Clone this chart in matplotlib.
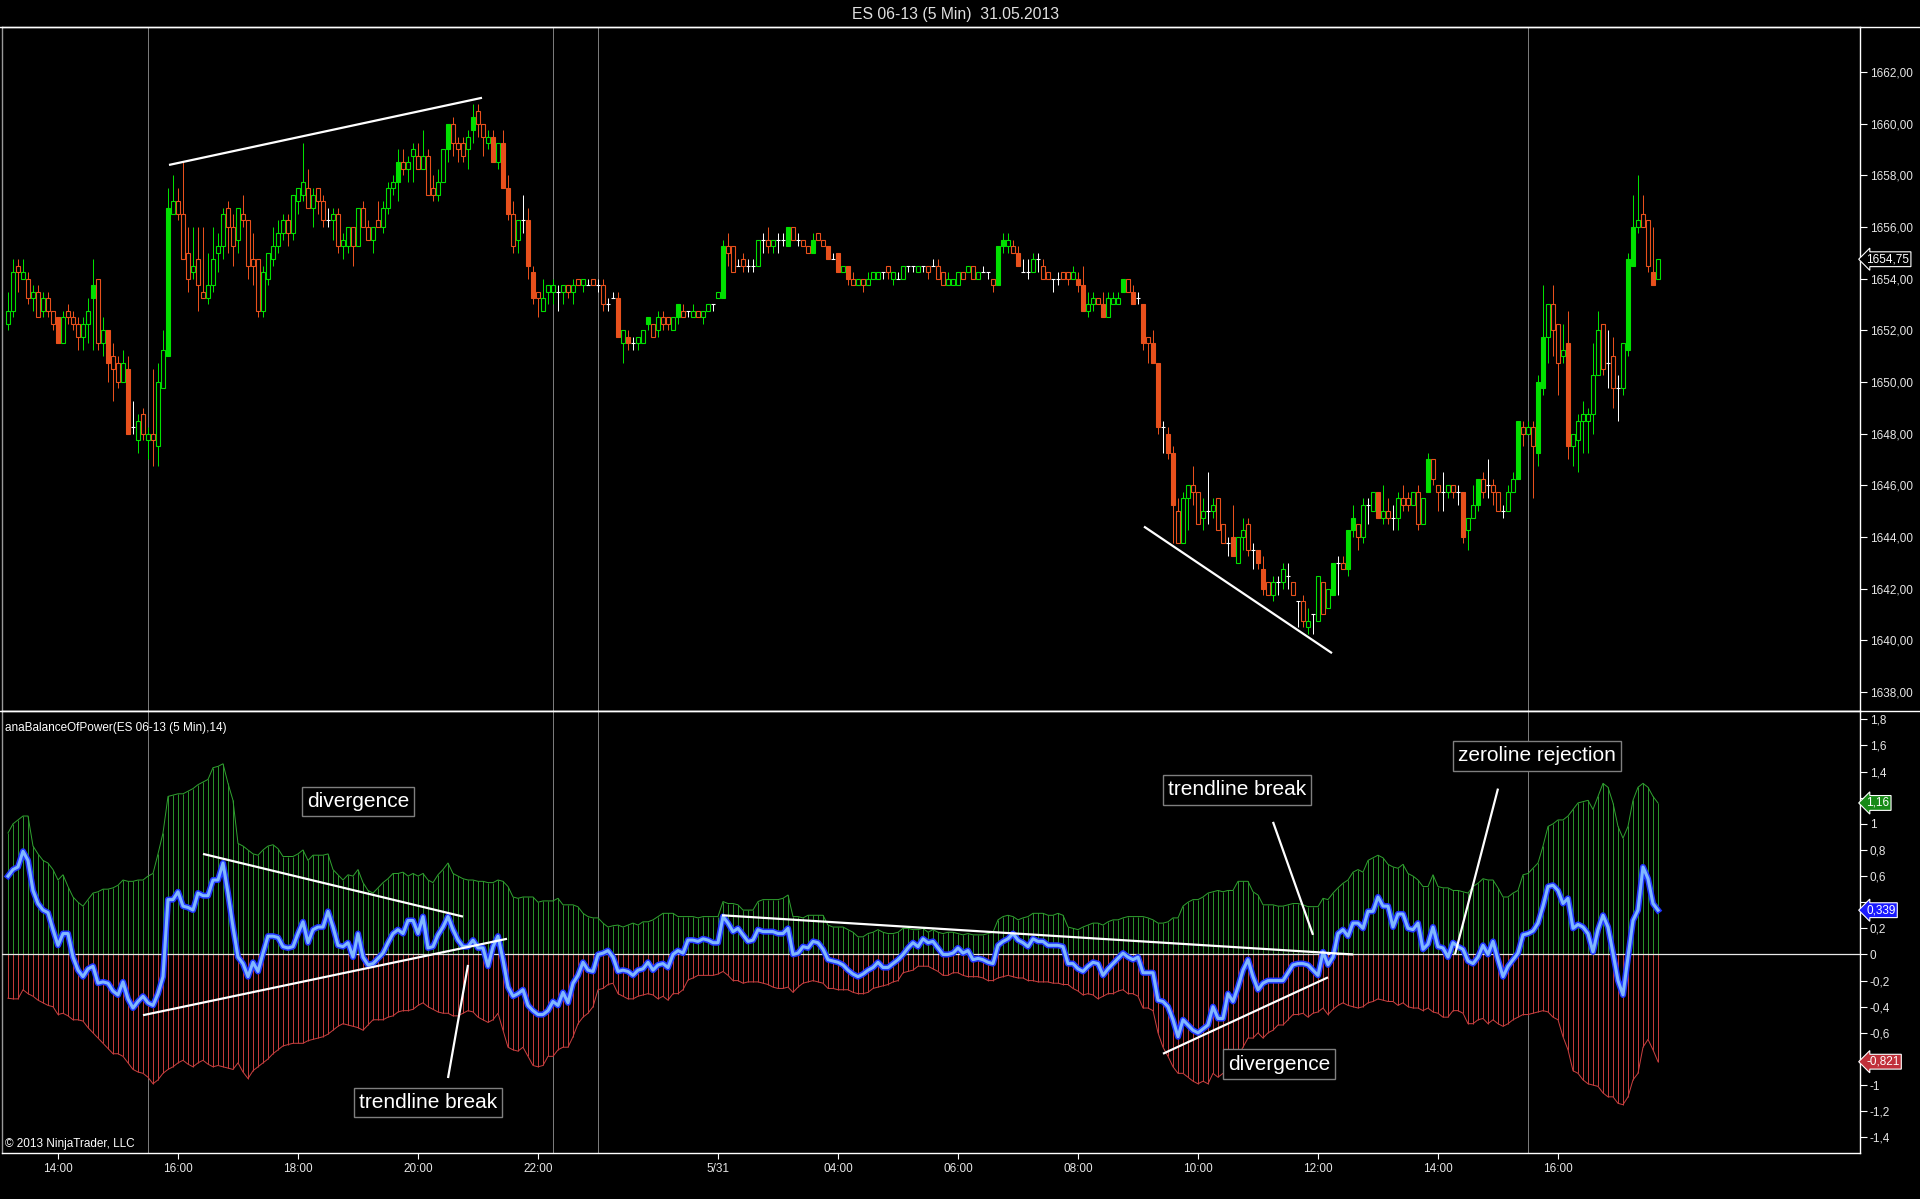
import matplotlib
matplotlib.use("Agg")
import matplotlib.pyplot as plt
import matplotlib.patheffects as pe
from matplotlib.lines import Line2D
import matplotlib.transforms as mtransforms

plt.rcParams['font.family'] = ['Liberation Sans', 'DejaVu Sans']

# ---- ES 06-13, 5 min bars (bar index 0 .. 330) ----
opens = [
    1652.25, 1652.75, 1654.5, 1654.0, 1654.0, 1653.25, 1653.5, 1652.75, 1653.25, 1652.75,
    1652.5, 1651.5, 1652.75, 1652.5, 1652.25, 1651.75, 1652.25, 1653.25, 1654.0, 1651.5,
    1652.0, 1651.0, 1650.75, 1650.0, 1650.5, 1648.25, 1647.75, 1648.75, 1647.75, 1648.0,
    1647.5, 1649.75, 1651.0, 1656.5, 1657.0, 1656.5, 1655.0, 1654.25, 1654.75, 1653.5,
    1653.25, 1653.75, 1655.0, 1655.25, 1656.75, 1656.0, 1655.5, 1656.5, 1656.25, 1654.75,
    1654.75, 1652.75, 1654.0, 1654.75, 1655.25, 1655.75, 1656.25, 1655.75, 1657.0, 1657.25,
    1657.5, 1656.75, 1657.5, 1657.0, 1656.25, 1656.25, 1656.5, 1655.25, 1655.25, 1656.0,
    1655.25, 1656.75, 1656.0, 1655.5, 1656.25, 1656.0, 1656.75, 1657.5, 1657.75, 1658.5,
    1658.25, 1658.75, 1658.75, 1658.25, 1658.75, 1657.5, 1657.25, 1657.75, 1659.0, 1660.0,
    1659.25, 1659.25, 1659.0, 1659.75, 1660.5, 1660.0, 1659.25, 1659.5, 1658.5, 1659.25,
    1657.5, 1656.5, 1655.5, 1656.25, 1656.25, 1654.25, 1653.5, 1652.75, 1653.5, 1653.5,
    1653.5, 1653.5, 1653.75, 1653.5, 1654.0, 1653.75, 1653.75, 1654.0, 1653.75, 1653.75,
    1653.0, 1653.25, 1653.25, 1651.5, 1651.75, 1651.5, 1651.5, 1651.5, 1652.25, 1652.25,
    1652.0, 1652.5, 1652.5, 1652.0, 1652.5, 1652.75, 1652.75, 1652.5, 1652.75, 1652.5,
    1652.75, 1653.0, 1653.25, 1653.25, 1655.25, 1655.25, 1654.5, 1654.75, 1654.5, 1654.5,
    1654.5, 1655.5, 1655.5, 1655.25, 1655.5, 1655.5, 1655.25, 1656.0, 1655.5, 1655.5,
    1655.25, 1655.0, 1655.75, 1655.5, 1655.25, 1654.75, 1655.0, 1654.25, 1654.5, 1654.0,
    1653.75, 1654.0, 1653.75, 1654.0, 1654.0, 1654.25, 1654.5, 1654.0, 1654.0, 1654.0,
    1654.5, 1654.5, 1654.25, 1654.5, 1654.5, 1654.5, 1654.5, 1654.25, 1653.75, 1653.75,
    1653.75, 1654.25, 1654.25, 1654.5, 1654.0, 1654.25, 1654.25, 1654.0, 1653.75, 1655.25,
    1655.25, 1655.25, 1655.0, 1654.25, 1654.25, 1654.25, 1654.75, 1654.5, 1654.25, 1654.0,
    1654.0, 1654.25, 1654.25, 1654.0, 1654.0, 1653.75, 1652.75, 1653.0, 1653.25, 1653.0,
    1652.5, 1653.0, 1653.0, 1653.5, 1654.0, 1653.5, 1653.25, 1653.0, 1651.75, 1651.5,
    1650.75, 1648.25, 1648.0, 1647.25, 1645.0, 1643.75, 1645.5, 1646.0, 1645.75, 1644.75,
    1645.0, 1645.0, 1645.5, 1644.5, 1643.75, 1644.0, 1643.0, 1644.0, 1644.5, 1643.5,
    1643.5, 1642.75, 1642.25, 1641.75, 1642.25, 1642.25, 1642.5, 1642.25, 1641.5, 1641.5,
    1640.5, 1641.0, 1640.75, 1642.25, 1641.25, 1641.75, 1643.0, 1643.0, 1642.75, 1644.25,
    1644.5, 1644.0, 1645.25, 1645.0, 1645.75, 1644.75, 1645.0, 1644.75, 1644.75, 1645.5,
    1645.5, 1645.25, 1645.75, 1644.5, 1645.75, 1647.0, 1646.0, 1645.75, 1645.75, 1646.0,
    1645.75, 1645.75, 1644.25, 1644.75, 1645.25, 1646.25, 1646.0, 1646.0, 1645.75, 1645.0,
    1645.0, 1645.75, 1646.25, 1648.25, 1648.0, 1648.25, 1647.25, 1649.75, 1651.75, 1653.0,
    1652.25, 1651.0, 1651.5, 1647.5, 1647.75, 1648.5, 1648.5, 1648.75, 1650.25, 1652.25,
    1650.75, 1651.0, 1649.75, 1649.75, 1651.25, 1654.5, 1656.0, 1656.5, 1656.25, 1654.25,
    1654.0]
highs = [
    1653.5, 1654.75, 1654.75, 1654.75, 1654.25, 1653.75, 1653.75, 1653.5, 1653.5, 1652.75,
    1652.5, 1652.75, 1653.0, 1652.75, 1652.5, 1652.5, 1653.25, 1654.75, 1654.0, 1652.5,
    1652.0, 1651.5, 1651.0, 1651.25, 1651.0, 1649.25, 1648.75, 1649.0, 1648.25, 1650.5,
    1650.75, 1652.0, 1657.5, 1658.0, 1657.5, 1658.5, 1656.0, 1656.0, 1656.0, 1656.0,
    1655.0, 1656.0, 1655.75, 1656.75, 1657.0, 1656.5, 1656.75, 1657.25, 1656.25, 1655.75,
    1654.75, 1654.5, 1655.0, 1656.0, 1656.25, 1656.5, 1656.5, 1657.25, 1657.5, 1659.25,
    1658.25, 1657.5, 1657.5, 1657.25, 1656.75, 1656.75, 1656.75, 1655.75, 1656.0, 1656.0,
    1656.75, 1657.0, 1656.25, 1656.0, 1657.0, 1657.0, 1657.75, 1658.0, 1659.0, 1659.0,
    1658.75, 1659.25, 1659.25, 1659.75, 1659.0, 1658.0, 1658.25, 1659.0, 1660.0, 1660.25,
    1659.5, 1659.5, 1659.75, 1660.75, 1660.75, 1660.0, 1659.75, 1659.75, 1659.25, 1659.75,
    1658.0, 1657.0, 1656.25, 1657.25, 1656.75, 1654.5, 1653.5, 1654.0, 1653.75, 1654.0,
    1653.75, 1653.75, 1653.75, 1654.0, 1654.0, 1654.0, 1654.0, 1654.0, 1654.0, 1654.0,
    1653.25, 1653.5, 1653.5, 1652.0, 1652.0, 1651.75, 1651.75, 1652.0, 1652.5, 1652.25,
    1652.75, 1652.75, 1652.5, 1652.5, 1653.0, 1653.0, 1652.75, 1653.0, 1652.75, 1652.75,
    1653.0, 1653.0, 1653.5, 1655.5, 1655.75, 1655.25, 1654.75, 1655.0, 1654.75, 1654.75,
    1655.5, 1655.75, 1656.0, 1655.5, 1655.75, 1655.75, 1656.0, 1656.0, 1655.75, 1655.5,
    1655.25, 1655.75, 1655.75, 1655.5, 1655.25, 1655.0, 1655.0, 1654.5, 1654.5, 1654.25,
    1654.0, 1654.0, 1654.25, 1654.25, 1654.25, 1654.25, 1654.5, 1654.25, 1654.25, 1654.5,
    1654.5, 1654.5, 1654.5, 1654.5, 1654.5, 1654.75, 1654.75, 1654.25, 1654.25, 1654.0,
    1654.25, 1654.25, 1654.5, 1654.5, 1654.25, 1654.5, 1654.25, 1654.0, 1655.25, 1655.75,
    1655.75, 1655.5, 1655.25, 1654.75, 1654.75, 1655.0, 1655.0, 1654.75, 1654.25, 1654.0,
    1654.25, 1654.25, 1654.25, 1654.5, 1654.25, 1654.5, 1653.5, 1653.5, 1653.25, 1653.5,
    1653.5, 1653.5, 1653.5, 1654.0, 1654.0, 1653.75, 1653.5, 1653.0, 1651.75, 1652.0,
    1650.75, 1648.5, 1648.25, 1647.5, 1645.5, 1645.75, 1646.0, 1646.75, 1645.75, 1645.5,
    1646.5, 1645.5, 1645.5, 1644.5, 1644.0, 1645.25, 1644.0, 1644.75, 1644.75, 1643.75,
    1643.5, 1643.25, 1642.25, 1642.5, 1642.5, 1643.0, 1643.0, 1642.25, 1641.5, 1641.75,
    1641.25, 1641.0, 1642.5, 1642.25, 1642.0, 1643.0, 1643.25, 1643.25, 1644.25, 1645.25,
    1644.5, 1645.5, 1645.5, 1645.75, 1645.75, 1646.0, 1645.5, 1645.25, 1645.75, 1646.0,
    1645.75, 1645.75, 1646.0, 1645.5, 1647.25, 1647.0, 1646.0, 1646.5, 1646.0, 1646.0,
    1646.0, 1645.75, 1644.75, 1646.0, 1646.25, 1646.5, 1647.0, 1646.25, 1645.75, 1645.25,
    1646.0, 1646.5, 1648.5, 1648.5, 1648.5, 1648.5, 1650.25, 1653.75, 1653.0, 1653.75,
    1652.25, 1652.25, 1652.75, 1648.0, 1648.75, 1649.25, 1649.0, 1651.5, 1652.75, 1652.25,
    1652.0, 1651.75, 1650.25, 1651.5, 1655.0, 1657.25, 1658.0, 1657.25, 1656.25, 1656.0,
    1654.75]
lows = [
    1652.0, 1652.5, 1653.5, 1654.0, 1653.0, 1652.75, 1652.5, 1652.5, 1652.5, 1652.0,
    1651.5, 1651.5, 1652.25, 1652.0, 1651.25, 1651.25, 1651.5, 1651.25, 1651.25, 1651.0,
    1650.0, 1649.25, 1649.75, 1650.0, 1648.0, 1648.0, 1647.25, 1647.75, 1647.0, 1646.75,
    1646.75, 1649.75, 1651.0, 1656.5, 1656.25, 1654.75, 1653.5, 1654.0, 1652.75, 1653.25,
    1653.0, 1653.5, 1654.25, 1654.75, 1655.0, 1654.5, 1655.0, 1656.0, 1654.0, 1653.75,
    1652.5, 1652.5, 1653.75, 1654.5, 1655.0, 1655.5, 1655.25, 1655.5, 1656.5, 1657.0,
    1656.75, 1656.0, 1656.5, 1656.0, 1656.0, 1655.5, 1655.0, 1654.75, 1655.0, 1654.5,
    1655.25, 1656.0, 1655.5, 1655.0, 1656.0, 1655.75, 1656.5, 1657.25, 1657.0, 1658.0,
    1657.75, 1657.75, 1658.25, 1658.25, 1657.25, 1657.0, 1657.0, 1657.75, 1658.5, 1658.75,
    1658.5, 1658.5, 1658.25, 1659.25, 1659.5, 1658.75, 1659.0, 1658.5, 1658.25, 1657.5,
    1656.25, 1655.0, 1655.0, 1655.75, 1654.0, 1653.0, 1652.5, 1652.75, 1653.0, 1653.0,
    1652.75, 1653.0, 1653.25, 1653.0, 1653.75, 1653.5, 1653.75, 1653.75, 1653.5, 1652.75,
    1652.75, 1653.25, 1651.75, 1650.75, 1651.25, 1651.25, 1651.25, 1651.5, 1652.0, 1651.75,
    1651.75, 1652.0, 1652.0, 1652.0, 1652.25, 1652.5, 1652.5, 1652.5, 1652.5, 1652.25,
    1652.75, 1652.75, 1653.25, 1653.25, 1654.5, 1654.25, 1654.5, 1654.25, 1654.25, 1654.25,
    1654.5, 1655.0, 1655.0, 1655.0, 1655.0, 1655.25, 1655.25, 1655.5, 1655.25, 1655.25,
    1655.0, 1655.0, 1655.5, 1655.25, 1654.75, 1654.75, 1654.25, 1654.25, 1653.75, 1653.75,
    1653.75, 1653.5, 1653.75, 1654.0, 1654.0, 1654.0, 1654.0, 1653.75, 1654.0, 1654.0,
    1654.25, 1654.25, 1654.25, 1654.25, 1654.0, 1654.5, 1654.0, 1653.75, 1653.75, 1653.75,
    1653.75, 1654.0, 1654.25, 1654.0, 1654.0, 1654.25, 1654.0, 1653.5, 1653.75, 1655.0,
    1655.0, 1655.0, 1654.5, 1654.25, 1654.0, 1654.25, 1654.25, 1654.0, 1654.0, 1653.5,
    1653.75, 1654.0, 1653.75, 1654.0, 1653.5, 1652.75, 1652.5, 1652.75, 1653.0, 1652.5,
    1652.5, 1653.0, 1653.0, 1653.5, 1653.5, 1653.0, 1653.0, 1651.25, 1650.75, 1650.75,
    1648.0, 1647.25, 1647.0, 1643.75, 1643.75, 1643.75, 1644.25, 1645.25, 1644.5, 1644.25,
    1644.5, 1644.75, 1644.25, 1643.75, 1643.25, 1643.25, 1643.0, 1643.5, 1643.25, 1642.75,
    1642.75, 1641.75, 1641.75, 1641.5, 1641.75, 1642.0, 1642.0, 1641.75, 1640.5, 1640.5,
    1640.25, 1640.25, 1640.75, 1641.0, 1641.25, 1641.75, 1641.75, 1642.75, 1642.5, 1644.0,
    1643.5, 1643.75, 1644.5, 1645.0, 1644.75, 1644.5, 1644.5, 1644.25, 1644.25, 1645.0,
    1645.0, 1645.25, 1644.25, 1644.5, 1645.75, 1646.0, 1645.0, 1645.0, 1645.5, 1645.5,
    1645.25, 1643.75, 1643.5, 1644.75, 1645.0, 1645.5, 1645.5, 1645.25, 1645.0, 1644.75,
    1645.0, 1645.75, 1646.25, 1647.5, 1648.0, 1645.5, 1646.75, 1649.5, 1650.75, 1651.0,
    1649.5, 1650.75, 1647.0, 1646.75, 1646.5, 1647.25, 1647.25, 1648.0, 1650.25, 1650.25,
    1649.75, 1649.0, 1648.5, 1649.5, 1651.0, 1654.5, 1655.75, 1656.0, 1654.25, 1653.75,
    1654.0]
closes = [
    1652.75, 1654.25, 1654.25, 1654.25, 1653.25, 1653.5, 1652.5, 1653.25, 1652.75, 1652.25,
    1651.5, 1652.5, 1652.5, 1652.25, 1651.75, 1652.25, 1652.75, 1653.75, 1651.5, 1652.0,
    1650.75, 1650.5, 1650.0, 1650.75, 1648.0, 1648.25, 1648.5, 1648.0, 1648.0, 1647.75,
    1650.0, 1651.25, 1656.75, 1657.0, 1656.5, 1654.75, 1654.0, 1654.5, 1653.75, 1653.25,
    1653.75, 1654.75, 1655.25, 1656.5, 1656.0, 1655.25, 1656.75, 1656.25, 1654.5, 1654.5,
    1652.75, 1654.25, 1655.0, 1655.25, 1655.75, 1656.25, 1655.75, 1657.25, 1657.5, 1657.75,
    1656.75, 1657.25, 1657.0, 1656.25, 1656.25, 1656.5, 1655.25, 1655.5, 1656.0, 1655.25,
    1656.75, 1656.0, 1655.5, 1656.0, 1656.0, 1656.75, 1657.5, 1657.75, 1658.5, 1658.25,
    1658.5, 1659.0, 1658.25, 1658.75, 1657.25, 1657.25, 1657.75, 1659.0, 1660.0, 1659.25,
    1659.0, 1658.75, 1659.5, 1660.25, 1660.0, 1659.5, 1659.5, 1658.5, 1659.25, 1657.5,
    1656.5, 1655.25, 1656.25, 1656.25, 1654.5, 1653.25, 1653.25, 1653.25, 1653.75, 1653.75,
    1653.5, 1653.75, 1653.5, 1653.75, 1653.75, 1654.0, 1653.75, 1653.75, 1653.75, 1653.0,
    1653.0, 1653.25, 1651.75, 1652.0, 1651.5, 1651.5, 1651.75, 1652.0, 1652.5, 1651.75,
    1652.5, 1652.25, 1652.25, 1652.5, 1653.0, 1652.5, 1652.75, 1652.75, 1652.5, 1652.75,
    1653.0, 1653.0, 1653.5, 1655.25, 1655.0, 1654.25, 1654.5, 1654.5, 1654.5, 1654.5,
    1655.5, 1655.5, 1655.25, 1655.5, 1655.5, 1655.5, 1656.0, 1655.5, 1655.5, 1655.25,
    1655.0, 1655.5, 1655.5, 1655.25, 1654.75, 1654.75, 1654.25, 1654.5, 1654.0, 1653.75,
    1654.0, 1653.75, 1654.0, 1654.25, 1654.25, 1654.25, 1654.25, 1654.25, 1654.0, 1654.5,
    1654.5, 1654.5, 1654.5, 1654.5, 1654.25, 1654.5, 1654.0, 1653.75, 1654.0, 1654.0,
    1654.25, 1654.0, 1654.5, 1654.0, 1654.25, 1654.25, 1654.25, 1653.75, 1655.25, 1655.5,
    1655.5, 1655.0, 1654.5, 1654.25, 1654.25, 1654.75, 1654.75, 1654.0, 1654.0, 1654.0,
    1654.0, 1654.0, 1654.0, 1654.25, 1653.75, 1652.75, 1653.0, 1653.25, 1653.0, 1652.5,
    1653.25, 1653.25, 1653.25, 1654.0, 1653.5, 1653.0, 1653.25, 1651.5, 1651.5, 1650.75,
    1648.25, 1648.25, 1647.25, 1645.25, 1643.75, 1645.5, 1646.0, 1645.75, 1644.5, 1645.0,
    1645.0, 1645.25, 1644.25, 1643.75, 1643.75, 1643.25, 1644.0, 1644.25, 1643.5, 1643.5,
    1643.0, 1642.0, 1641.75, 1642.25, 1642.25, 1642.75, 1642.5, 1641.75, 1641.5, 1640.75,
    1640.75, 1641.0, 1642.5, 1641.0, 1642.0, 1643.0, 1643.0, 1642.75, 1644.25, 1644.75,
    1644.0, 1645.25, 1645.25, 1645.75, 1644.75, 1645.0, 1644.75, 1644.75, 1645.5, 1645.25,
    1645.25, 1645.75, 1644.5, 1645.5, 1647.0, 1646.25, 1645.75, 1645.75, 1646.0, 1645.75,
    1645.75, 1644.0, 1644.75, 1645.25, 1646.25, 1645.75, 1646.0, 1645.75, 1645.0, 1645.0,
    1645.75, 1646.25, 1648.5, 1648.0, 1648.25, 1647.5, 1650.0, 1651.75, 1653.0, 1652.0,
    1650.75, 1651.25, 1647.5, 1648.0, 1648.5, 1648.75, 1648.75, 1650.25, 1652.0, 1650.5,
    1650.75, 1649.75, 1649.75, 1651.5, 1654.75, 1656.0, 1656.25, 1656.0, 1654.5, 1653.75,
    1654.75]
filled_bars = [10, 17, 20, 24, 32, 78, 88, 93, 97, 99, 100, 104, 105, 122, 124, 128, 134,
               143, 156, 161, 164, 166, 168, 198, 199, 202, 214, 215, 219, 223, 225, 227,
               229, 230, 232, 233, 245, 250, 251, 265, 268, 269, 274, 284, 291, 294, 302,
               306, 307, 312, 324, 325, 329]

# ---- anaBalanceOfPower(14): upper band, lower band, BOP line ----
bop_up = [
    0.93, 1.00, 1.03, 1.06, 1.06, 0.83, 0.77, 0.72, 0.70, 0.65,
    0.57, 0.61, 0.52, 0.44, 0.40, 0.37, 0.42, 0.47, 0.48, 0.50,
    0.50, 0.51, 0.53, 0.57, 0.56, 0.56, 0.57, 0.57, 0.60, 0.62,
    0.77, 0.93, 1.21, 1.22, 1.23, 1.23, 1.25, 1.27, 1.30, 1.32,
    1.34, 1.43, 1.44, 1.46, 1.31, 1.18, 0.85, 0.83, 0.80, 0.77,
    0.76, 0.80, 0.83, 0.84, 0.81, 0.75, 0.75, 0.75, 0.77, 0.80,
    0.72, 0.76, 0.76, 0.76, 0.77, 0.65, 0.61, 0.57, 0.61, 0.60,
    0.65, 0.55, 0.49, 0.47, 0.51, 0.55, 0.58, 0.62, 0.62, 0.63,
    0.60, 0.62, 0.60, 0.62, 0.57, 0.55, 0.61, 0.65, 0.70, 0.62,
    0.60, 0.58, 0.57, 0.57, 0.56, 0.56, 0.55, 0.55, 0.57, 0.56,
    0.52, 0.44, 0.43, 0.44, 0.44, 0.44, 0.40, 0.41, 0.41, 0.41,
    0.43, 0.38, 0.38, 0.38, 0.365, 0.315, 0.29, 0.28, 0.28, 0.24,
    0.21, 0.22, 0.225, 0.21, 0.225, 0.24, 0.225, 0.25, 0.25, 0.265,
    0.29, 0.315, 0.315, 0.315, 0.29, 0.29, 0.29, 0.29, 0.28, 0.29,
    0.29, 0.29, 0.29, 0.405, 0.39, 0.39, 0.38, 0.34, 0.34, 0.34,
    0.405, 0.42, 0.42, 0.42, 0.42, 0.43, 0.455, 0.29, 0.29, 0.28,
    0.30, 0.30, 0.30, 0.30, 0.225, 0.21, 0.21, 0.21, 0.19, 0.17,
    0.135, 0.135, 0.16, 0.17, 0.19, 0.17, 0.16, 0.16, 0.17, 0.20,
    0.20, 0.19, 0.19, 0.20, 0.17, 0.19, 0.17, 0.16, 0.17, 0.17,
    0.16, 0.15, 0.16, 0.15, 0.15, 0.15, 0.16, 0.17, 0.265, 0.29,
    0.30, 0.29, 0.265, 0.28, 0.29, 0.315, 0.315, 0.315, 0.30, 0.30,
    0.315, 0.30, 0.21, 0.20, 0.19, 0.21, 0.225, 0.24, 0.24, 0.225,
    0.25, 0.265, 0.265, 0.28, 0.29, 0.29, 0.29, 0.29, 0.28, 0.265,
    0.24, 0.24, 0.25, 0.28, 0.28, 0.37, 0.40, 0.42, 0.42, 0.44,
    0.47, 0.48, 0.49, 0.48, 0.49, 0.49, 0.56, 0.56, 0.56, 0.48,
    0.455, 0.38, 0.38, 0.38, 0.37, 0.37, 0.38, 0.39, 0.39, 0.38,
    0.366, 0.366, 0.366, 0.43, 0.42, 0.47, 0.51, 0.545, 0.57, 0.63,
    0.65, 0.63, 0.72, 0.74, 0.76, 0.74, 0.69, 0.67, 0.66, 0.69,
    0.62, 0.60, 0.57, 0.52, 0.52, 0.61, 0.52, 0.51, 0.51, 0.49,
    0.49, 0.48, 0.47, 0.52, 0.545, 0.58, 0.57, 0.57, 0.51, 0.44,
    0.44, 0.47, 0.49, 0.61, 0.62, 0.66, 0.70, 0.83, 0.98, 1.00,
    1.03, 1.03, 1.06, 1.11, 1.16, 1.17, 1.18, 1.11, 1.21, 1.31,
    1.28, 1.16, 0.98, 0.89, 0.98, 1.18, 1.28, 1.31, 1.28, 1.21,
    1.16]
bop_dn = [
    -0.335, -0.34, -0.34, -0.27, -0.30, -0.32, -0.35, -0.37, -0.39, -0.40,
    -0.46, -0.45, -0.47, -0.50, -0.50, -0.51, -0.56, -0.60, -0.64, -0.68,
    -0.72, -0.76, -0.76, -0.78, -0.83, -0.88, -0.90, -0.91, -0.94, -0.99,
    -0.96, -0.91, -0.88, -0.86, -0.83, -0.81, -0.84, -0.86, -0.83, -0.81,
    -0.84, -0.86, -0.85, -0.86, -0.87, -0.88, -0.83, -0.90, -0.95, -0.89,
    -0.86, -0.83, -0.80, -0.76, -0.73, -0.70, -0.69, -0.68, -0.68, -0.68,
    -0.66, -0.65, -0.64, -0.63, -0.61, -0.58, -0.55, -0.53, -0.54, -0.55,
    -0.56, -0.58, -0.54, -0.50, -0.50, -0.50, -0.48, -0.47, -0.44, -0.43,
    -0.43, -0.42, -0.39, -0.37, -0.40, -0.42, -0.44, -0.45, -0.45, -0.47,
    -0.47, -0.45, -0.43, -0.44, -0.48, -0.50, -0.52, -0.50, -0.45, -0.58,
    -0.71, -0.73, -0.74, -0.71, -0.78, -0.85, -0.86, -0.85, -0.78, -0.78,
    -0.73, -0.71, -0.71, -0.63, -0.53, -0.48, -0.45, -0.40, -0.27, -0.26,
    -0.23, -0.22, -0.30, -0.32, -0.34, -0.34, -0.32, -0.31, -0.30, -0.31,
    -0.34, -0.32, -0.35, -0.30, -0.30, -0.27, -0.195, -0.18, -0.16, -0.16,
    -0.16, -0.16, -0.15, -0.13, -0.16, -0.20, -0.20, -0.22, -0.21, -0.21,
    -0.21, -0.22, -0.23, -0.25, -0.26, -0.26, -0.25, -0.29, -0.25, -0.22,
    -0.21, -0.20, -0.21, -0.22, -0.26, -0.26, -0.27, -0.27, -0.27, -0.29,
    -0.30, -0.30, -0.29, -0.26, -0.25, -0.24, -0.23, -0.21, -0.20, -0.14,
    -0.13, -0.12, -0.09, -0.09, -0.09, -0.11, -0.13, -0.16, -0.16, -0.14,
    -0.14, -0.16, -0.17, -0.17, -0.17, -0.18, -0.20, -0.20, -0.18, -0.17,
    -0.16, -0.17, -0.18, -0.18, -0.20, -0.20, -0.21, -0.21, -0.21, -0.22,
    -0.22, -0.23, -0.23, -0.26, -0.28, -0.31, -0.30, -0.31, -0.34, -0.32,
    -0.30, -0.30, -0.28, -0.27, -0.30, -0.30, -0.32, -0.41, -0.41, -0.43,
    -0.60, -0.71, -0.78, -0.86, -0.91, -0.91, -0.94, -0.97, -0.99, -0.97,
    -0.99, -0.91, -0.94, -0.91, -0.92, -0.86, -0.78, -0.71, -0.64, -0.64,
    -0.60, -0.64, -0.60, -0.58, -0.54, -0.54, -0.50, -0.46, -0.46, -0.45,
    -0.48, -0.45, -0.44, -0.41, -0.46, -0.42, -0.39, -0.37, -0.39, -0.40,
    -0.41, -0.40, -0.37, -0.36, -0.34, -0.35, -0.36, -0.36, -0.39, -0.37,
    -0.40, -0.41, -0.41, -0.43, -0.41, -0.44, -0.45, -0.48, -0.48, -0.43,
    -0.43, -0.45, -0.53, -0.53, -0.50, -0.49, -0.53, -0.50, -0.53, -0.55,
    -0.53, -0.50, -0.48, -0.46, -0.46, -0.45, -0.44, -0.43, -0.44, -0.48,
    -0.50, -0.63, -0.73, -0.89, -0.91, -0.96, -0.99, -1.00, -1.01, -1.06,
    -1.09, -1.09, -1.14, -1.15, -1.09, -0.96, -0.91, -0.71, -0.65, -0.73,
    -0.821]
bop = [
    0.60, 0.65, 0.67, 0.79, 0.72, 0.49, 0.39, 0.34, 0.32, 0.19,
    0.07, 0.16, 0.16, -0.02, -0.12, -0.17, -0.11, -0.09, -0.22, -0.21,
    -0.22, -0.28, -0.31, -0.21, -0.34, -0.41, -0.36, -0.32, -0.37, -0.39,
    -0.30, -0.17, 0.42, 0.42, 0.48, 0.37, 0.36, 0.34, 0.47, 0.45,
    0.45, 0.57, 0.57, 0.70, 0.47, 0.21, -0.02, -0.07, -0.17, -0.06,
    -0.13, 0.01, 0.14, 0.14, 0.13, 0.06, 0.05, 0.06, 0.16, 0.25,
    0.09, 0.19, 0.21, 0.21, 0.33, 0.21, 0.07, 0.06, 0.09, -0.02,
    0.16, -0.02, -0.08, -0.07, -0.03, 0.01, 0.09, 0.16, 0.19, 0.16,
    0.26, 0.26, 0.16, 0.29, 0.05, 0.06, 0.15, 0.21, 0.29, 0.19,
    0.11, 0.06, 0.06, 0.11, 0.05, 0.05, -0.09, 0.06, 0.14, -0.04,
    -0.25, -0.32, -0.30, -0.27, -0.39, -0.43, -0.46, -0.46, -0.43, -0.36,
    -0.39, -0.29, -0.37, -0.22, -0.16, -0.06, -0.12, -0.13, 0.00, 0.01,
    0.03, -0.02, -0.13, -0.12, -0.13, -0.16, -0.12, -0.11, -0.06, -0.12,
    -0.08, -0.07, -0.10, 0.00, 0.03, 0.01, 0.11, 0.11, 0.10, 0.12,
    0.11, 0.09, 0.09, 0.29, 0.24, 0.175, 0.20, 0.15, 0.10, 0.11,
    0.19, 0.175, 0.175, 0.175, 0.16, 0.16, 0.20, 0.00, 0.01, 0.06,
    0.05, 0.10, 0.09, 0.04, -0.04, -0.05, -0.06, -0.08, -0.12, -0.15,
    -0.17, -0.15, -0.12, -0.10, -0.06, -0.10, -0.10, -0.07, -0.04, 0.00,
    0.05, 0.09, 0.06, 0.12, 0.09, 0.10, 0.05, 0.00, 0.00, 0.01,
    0.05, 0.01, 0.03, -0.04, -0.03, -0.04, -0.06, -0.07, 0.07, 0.10,
    0.12, 0.16, 0.11, 0.09, 0.06, 0.12, 0.10, 0.10, 0.07, 0.07,
    0.07, 0.06, -0.07, -0.07, -0.11, -0.13, -0.09, -0.06, -0.07, -0.16,
    -0.11, -0.07, -0.03, 0.01, -0.02, -0.04, -0.02, -0.14, -0.14, -0.14,
    -0.35, -0.36, -0.40, -0.50, -0.63, -0.50, -0.54, -0.58, -0.60, -0.57,
    -0.54, -0.40, -0.49, -0.49, -0.30, -0.36, -0.25, -0.12, -0.04, -0.17,
    -0.27, -0.22, -0.20, -0.20, -0.20, -0.20, -0.14, -0.08, -0.07, -0.07,
    -0.08, -0.12, -0.16, 0.02, -0.08, -0.02, 0.16, 0.19, 0.14, 0.24,
    0.24, 0.20, 0.33, 0.33, 0.44, 0.37, 0.37, 0.21, 0.31, 0.31,
    0.20, 0.19, 0.24, 0.04, 0.08, 0.21, 0.06, 0.05, -0.02, 0.09,
    0.06, 0.04, -0.05, -0.07, -0.02, 0.07, 0.00, 0.10, -0.04, -0.17,
    -0.09, -0.04, 0.01, 0.15, 0.16, 0.18, 0.24, 0.37, 0.52, 0.53,
    0.49, 0.39, 0.43, 0.20, 0.23, 0.21, 0.16, 0.02, 0.19, 0.30,
    0.21, 0.01, -0.20, -0.31, -0.02, 0.26, 0.34, 0.67, 0.58, 0.39,
    0.339]

# time axis labels (bar index -> label) and session separators
time_ticks = [10, 34, 58, 82, 106, 142, 166, 190, 214, 238, 262, 286, 310]
time_labels = ['14:00', '16:00', '18:00', '20:00', '22:00', '5/31', '04:00',
               '06:00', '08:00', '10:00', '12:00', '14:00', '16:00']
session_breaks = [28, 109, 118, 304]

# hand-drawn trend lines and text notes
price_lines = [((32.2, 1658.4), (94.8, 1661.0)), ((227.2, 1644.4), (264.8, 1639.5))]
bop_lines = [((39, 0.77), (91, 0.29)), ((27, -0.465), (99.8, 0.12)),
             ((88, -0.946), (92, -0.08)), ((142.8, 0.30), (269, 0.0)),
             ((231, -0.76), (264, -0.175)), ((253, 1.015), (261, 0.15)),
             ((298, 1.27), (289.4, 0.0))]
notes = [('divergence', 70, 1.17), ('trendline break', 84, -1.135),
         ('trendline break', 245.8, 1.26), ('zeroline rejection', 305.8, 1.52),
         ('divergence', 254.2, -0.84)]

n = min(len(opens), len(highs), len(lows), len(closes))
m = min(len(bop_up), len(bop_dn), len(bop))

W, H = 1920, 1199
fig = plt.figure(figsize=(W / 100, H / 100), dpi=100, facecolor='black')
PX = 0.72  # one pixel in points

ax1 = fig.add_axes([2 / W, 1 - 711 / H, 1858 / W, 684 / H], facecolor='black')
ax2 = fig.add_axes([2 / W, 1 - 1153 / H, 1858 / W, 442 / H], facecolor='black')

UP, DOWN, DOJI = '#00e000', '#e8501c', '#ffffff'

# candles
xs = list(range(n))
cols = []
for i in xs:
    if closes[i] > opens[i]:
        cols.append(UP)
    elif closes[i] < opens[i]:
        cols.append(DOWN)
    else:
        cols.append(DOJI)
ax1.vlines(xs, lows[:n], highs[:n], colors=cols, lw=PX, zorder=2)
for i in xs:
    lo = min(opens[i], closes[i])
    hgt = abs(closes[i] - opens[i])
    fc = cols[i] if i in filled_bars else 'black'
    ax1.bar(i, hgt, bottom=lo, width=0.62, facecolor=fc, edgecolor=cols[i],
            lw=PX * 1.1, zorder=3)

for sb in session_breaks:
    ax1.axvline(sb, color='#7a7a7a', lw=PX, zorder=1)
    ax2.axvline(sb, color='#7a7a7a', lw=PX, zorder=1)

for (a, b) in price_lines:
    ax1.plot([a[0], b[0]], [a[1], b[1]], color='white', lw=1.6, zorder=5,
             solid_capstyle='butt')

ax1.set_xlim(-1.2, 370.4)
ax1.set_ylim(1637.26, 1663.74)
ax1.set_yticks([1638 + 2 * k for k in range(13)])
ax1.set_yticklabels([f"{1638 + 2 * k:.2f}".replace('.', ',') for k in range(13)])
ax1.set_xticks([])

# indicator panel
xb = list(range(m))
ax2.vlines(xb, 0, bop_up[:m], colors='#2a8f2a', lw=PX, zorder=2)
ax2.vlines(xb, bop_dn[:m], 0, colors='#c23a3a', lw=PX, zorder=2)
ax2.plot(xb, bop_up[:m], color='#2fa02f', lw=PX, zorder=2)
ax2.plot(xb, bop_dn[:m], color='#c84040', lw=PX, zorder=2)
ax2.axhline(0, color='#e8e8e8', lw=0.9, zorder=3)
ax2.plot(xb, bop[:m], color='#80b8ff', lw=2.2, zorder=4,
         path_effects=[pe.Stroke(linewidth=4.4, foreground='#1f35ff'), pe.Normal()])

for (a, b) in bop_lines:
    ax2.plot([a[0], b[0]], [a[1], b[1]], color='white', lw=1.6, zorder=5,
             solid_capstyle='butt')

for txt, x, y in notes:
    ax2.text(x, y, txt, ha='center', va='center', color='white', fontsize=15,
             zorder=6, bbox=dict(boxstyle='square,pad=0.25', fc='black',
                                 ec='#7f7f7f', lw=1))

ax2.set_xlim(-1.2, 370.4)
ax2.set_ylim(-1.52, 1.864)
bt = [round(-1.4 + 0.2 * k, 1) for k in range(17)]
hidden = (1.2, 0.4, -0.8)  # covered by the value flags
ax2.set_yticks(bt)
ax2.set_yticklabels(['' if v in hidden else
                     f"{0.0 if abs(v) < 1e-9 else v:g}".replace('.', ',') for v in bt])
ax2.set_xticks(time_ticks)
ax2.set_xticklabels(time_labels)

for ax in (ax1, ax2):
    ax.yaxis.tick_right()
    ax.tick_params(axis='y', colors='white', labelcolor='#e6e6e6', labelsize=8.5,
                   direction='out', length=5, width=0.8, pad=2)
    for s in ('top', 'right', 'bottom', 'left'):
        ax.spines[s].set_color('white')
        ax.spines[s].set_linewidth(1.0)
    ax.spines['left'].set_color('#9a9a9a')
ax2.tick_params(axis='x', colors='white', labelcolor='#e6e6e6', labelsize=8.5,
                direction='out', length=4, width=0.8, pad=3)

# last value flags on the right scale
def flag(ax, val, label, fc):
    tr = mtransforms.blended_transform_factory(ax.transAxes, ax.transData)
    ax.text(1.0035, val, label, transform=tr, ha='left', va='center', fontsize=8.5,
            color='white', zorder=10, clip_on=False,
            bbox=dict(boxstyle='larrow,pad=0.12', fc=fc, ec='white', lw=0.8))

flag(ax1, closes[n - 1], f"{closes[n - 1]:.2f}".replace('.', ','), 'black')
flag(ax2, bop_up[m - 1], f"{bop_up[m - 1]:.2f}".replace('.', ','), '#168a16')
flag(ax2, bop[m - 1], f"{bop[m - 1]:.3f}".replace('.', ','), '#1a1aff')
flag(ax2, bop_dn[m - 1], f"{bop_dn[m - 1]:.3f}".replace('.', ','), '#c0303a')

ax2.text(0.0015, 0.975, 'anaBalanceOfPower(ES 06-13 (5 Min),14)', transform=ax2.transAxes,
         ha='left', va='top', color='white', fontsize=8.5)
ax2.text(0.0015, 0.006, '\u00a9 2013 NinjaTrader, LLC', transform=ax2.transAxes,
         ha='left', va='bottom', color='white', fontsize=8.5)

fig.text(956 / W, 1 - 15 / H, 'ES 06-13 (5 Min)  31.05.2013', ha='center', va='center',
         color='#e0e0e0', fontsize=11.3)
# full-width frame lines at top and between panels
for yy in (27, 711):
    fig.add_artist(Line2D([0, 1], [1 - yy / H, 1 - yy / H], color='white', lw=1.0,
                          transform=fig.transFigure))

fig.savefig('out.png', dpi=100, facecolor='black')
